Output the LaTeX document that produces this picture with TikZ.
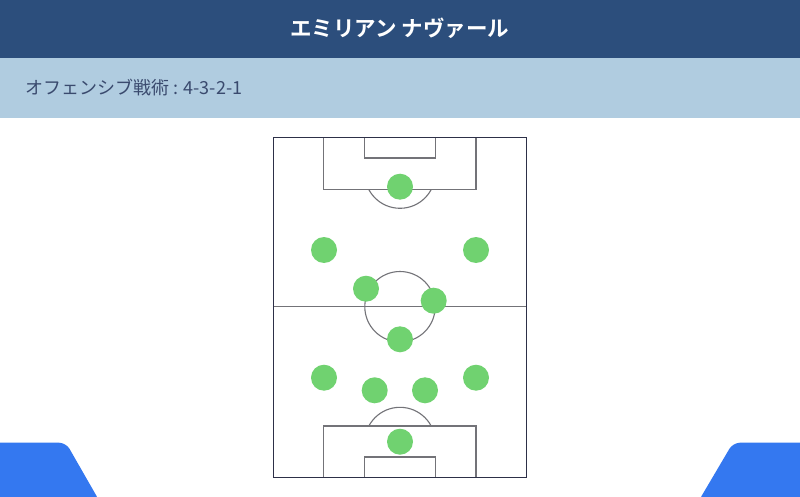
\documentclass[tikz,border=0pt]{standalone}
\usepackage{fontspec}
\newfontfamily\cjk{Noto Sans CJK JP}
\newfontfamily\cjkb{Noto Sans CJK JP Bold}
\definecolor{hdr}{RGB}{44,78,124}
\definecolor{band}{RGB}{176,204,224}
\definecolor{subtxt}{RGB}{58,74,110}
\definecolor{pitchedge}{RGB}{45,48,72}
\definecolor{pline}{RGB}{115,115,120}
\definecolor{player}{RGB}{112,210,112}
\definecolor{accent}{RGB}{52,120,240}
\tikzset{
  player/.style={circle,fill=player,minimum size=26pt,inner sep=0pt},
  outerline/.style={draw=pitchedge,line width=1.5pt},
  innerline/.style={draw=pline,line width=1.1pt},
}
\begin{document}
\begin{tikzpicture}[x=1pt,y=-1pt]
\useasboundingbox (0,0) rectangle (800,497);
\fill[white] (0,0) rectangle (800,497);
% header
\fill[hdr] (0,0) rectangle (800,58);
\fill[band] (0,58) rectangle (800,118);
\node[text=white,font=\cjkb\fontsize{21.5}{24}\selectfont] (title) at (400,28) {エミリアン ナヴァール};
\node[anchor=west,text=subtxt,font=\cjk\fontsize{18}{20}\selectfont,inner sep=0pt] (sub) at (25,88) {オフェンシブ戦術 : 4-3-2-1};
% blue corner shapes
\fill[accent,rounded corners=7pt] (-10,442.7) -- (66,442.7) -- (100,502) [sharp corners] -- (-10,502) -- cycle;
\fill[accent,rounded corners=7pt] (810,442.7) -- (733,442.7) -- (698,502) [sharp corners] -- (810,502) -- cycle;
% pitch
\fill[white] (273.3,137.3) rectangle (526.7,477.3);
% inner lines
\draw[innerline] (323.3,137.3) -- (323.3,189.3) -- (476,189.3) -- (476,137.3);
\draw[innerline] (364.3,137.3) -- (364.3,158) -- (435.7,158) -- (435.7,137.3);
\draw[innerline] (323.3,477.3) -- (323.3,426) -- (476,426) -- (476,477.3);
\draw[innerline] (364.3,477.3) -- (364.3,457) -- (435.7,457) -- (435.7,477.3);
\draw[innerline] (273.3,306.7) -- (526.7,306.7);
\draw[innerline] (400,306.7) circle (35.2);
% penalty arcs
\begin{scope}
\clip (273.3,189.3) rectangle (526.7,260);
\draw[innerline] (400,173) circle (35.3);
\end{scope}
\begin{scope}
\clip (273.3,360) rectangle (526.7,426);
\draw[innerline] (400,442.6) circle (35.3);
\end{scope}
\draw[outerline] (273.3,137.3) rectangle (526.7,477.3);
% players
\node[player] (gk1) at (400,186.7) {};
\node[player] (p1) at (324,250) {};
\node[player] (p2) at (476,250) {};
\node[player] (p3) at (366,288.7) {};
\node[player] (p4) at (433.7,300.7) {};
\node[player] (p5) at (400,339.3) {};
\node[player] (p6) at (324,377.7) {};
\node[player] (p7) at (374.7,390.3) {};
\node[player] (p8) at (425,390.3) {};
\node[player] (p9) at (476,377.7) {};
\node[player] (gk2) at (400,441.7) {};
\end{tikzpicture}
\end{document}
